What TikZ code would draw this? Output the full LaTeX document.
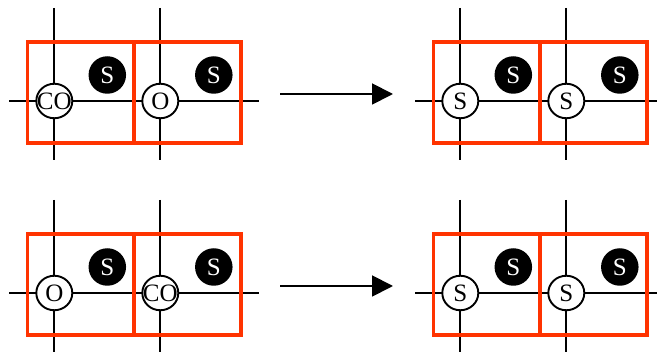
\documentclass[tikz,border=0pt]{standalone}
\usepackage{fontspec}
\setmainfont{Liberation Serif}
\usetikzlibrary{arrows.meta,shapes.geometric}
\definecolor{cellred}{RGB}{255,51,0}
\tikzset{
  wire/.style={draw=black,line width=1.9pt},
  cell/.style={draw=cellred,line width=3.4pt,line join=miter,minimum width=107pt,minimum height=101pt,inner sep=0pt,outer sep=0pt},
  siteatom/.style={ellipse,draw=black,fill=white,line width=1.9pt,minimum width=36pt,minimum height=34.5pt,inner sep=0pt,font=\fontsize{25}{25}\selectfont},
  sulfur/.style={circle,fill=black,text=white,minimum size=37.5pt,inner sep=0pt,font=\fontsize{25}{25}\selectfont},
  flow/.style={draw=black,line width=1.9pt,-{Triangle[length=21pt,width=21pt]}}
}
\begin{document}
\begin{tikzpicture}[x=1pt,y=-1pt]
\useasboundingbox (0,0) rectangle (657,352);
\foreach \id/\dx/\dy/\la/\lb in {a/0/0/CO/O, b/0/192/O/CO, c/406/0/S/S, d/406/192/S/S}{
  \begin{scope}[shift={(\dx,\dy)}]
    \coordinate (\id w) at (9,101);
    \coordinate (\id e) at (259,101);
    \coordinate (\id n1) at (54,8);
    \coordinate (\id s1) at (54,160);
    \coordinate (\id n2) at (160,8);
    \coordinate (\id s2) at (160,160);
    \draw[wire] (\id w) -- (\id e);
    \draw[wire] (\id n1) -- (\id s1);
    \draw[wire] (\id n2) -- (\id s2);
    \node[cell] (\id r1) at (80.8,92.5) {};
    \node[cell] (\id r2) at (187.5,92.5) {};
    \node[siteatom] (\id c1) at (54.3,101) {\makebox[0pt]{\la}};
    \node[siteatom] (\id c2) at (160.3,101) {\makebox[0pt]{\lb}};
    \node[sulfur] (\id s3) at (107.3,75) {S};
    \node[sulfur] (\id s4) at (213.8,75) {S};
  \end{scope}
}
\coordinate (t0) at (280,94);
\coordinate (t1) at (393,94);
\coordinate (u0) at (280,286);
\coordinate (u1) at (393,286);
\draw[flow] (t0) -- (t1);
\draw[flow] (u0) -- (u1);
\end{tikzpicture}
\end{document}
